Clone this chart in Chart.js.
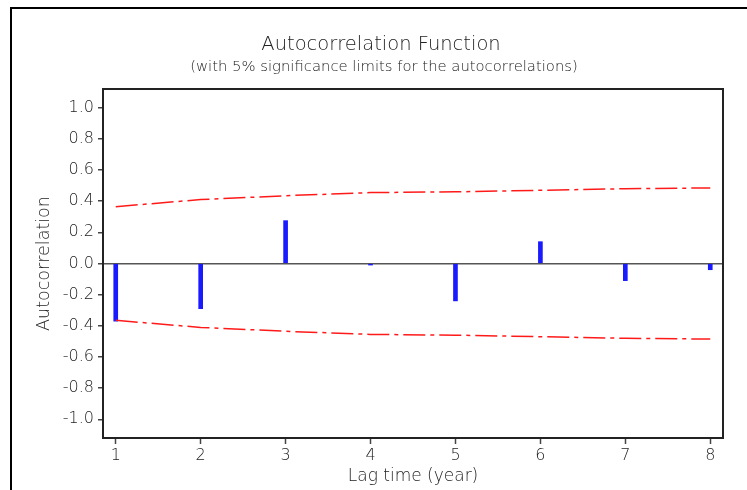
<!DOCTYPE html>
<html>
<head>
<meta charset="utf-8">
<script src="https://cdn.jsdelivr.net/npm/chart.js@4"></script>
<style>
    html, body { margin: 0; padding: 0; background: #fff; }
    #wrap { position: relative; width: 747px; height: 490px; }
</style>
</head>
<body>
<div id="wrap"><canvas id="acfChart" width="747" height="490"></canvas></div>
<script>
const lags = [1, 2, 3, 4, 5, 6, 7, 8];
const acf = [-0.37, -0.29, 0.275, -0.01, -0.24, 0.14, -0.11, -0.04];
const upperLimit = [0.365, 0.41, 0.435, 0.455, 0.46, 0.47, 0.48, 0.485];
const lowerLimit = upperLimit.map(v => -v);
const yTicks = [-1.0, -0.8, -0.6, -0.4, -0.2, 0.0, 0.2, 0.4, 0.6, 0.8, 1.0];

const FONT = "'DejaVu Sans', sans-serif";
const TEXT = '#222';

// outer frame, plot box and headings
const decorations = {
    id: 'decorations',
    beforeDraw(chart) {
        const c = chart.ctx;
        c.save();
        c.fillStyle = '#fff';
        c.fillRect(0, 0, chart.width, chart.height);
        c.strokeStyle = '#000';
        c.lineWidth = 2;
        c.beginPath();
        c.moveTo(11, chart.height);
        c.lineTo(11, 8);
        c.lineTo(chart.width, 8);
        c.stroke();
        c.restore();
    },
    afterDraw(chart) {
        const c = chart.ctx;
        const a = chart.chartArea;
        c.save();
        c.strokeStyle = '#222';
        c.lineWidth = 2;
        c.strokeRect(a.left, a.top, a.right - a.left, a.bottom - a.top);
        c.fillStyle = TEXT;
        c.textAlign = 'center';
        c.textBaseline = 'middle';
        c.font = '200 19.5px ' + FONT;
        c.fillText('Autocorrelation Function', 381, 45);
        c.font = '200 14.8px ' + FONT;
        c.fillText('(with 5% significance limits for the autocorrelations)', 384, 67);
        c.restore();
    }
};

const limitStyle = {
    type: 'line',
    borderColor: '#ff1a1a',
    borderWidth: 1.5,
    borderDash: [22, 5, 4, 5],
    pointRadius: 0,
    tension: 0,
    fill: false
};

new Chart(document.getElementById('acfChart'), {
    type: 'bar',
    data: {
        datasets: [
            {
                label: 'ACF',
                data: lags.map((l, i) => ({ x: l, y: acf[i] })),
                backgroundColor: '#1a1aff',
                barThickness: 4,
                order: 2
            },
            { ...limitStyle, label: 'Upper', data: lags.map((l, i) => ({ x: l, y: upperLimit[i] })), order: 1 },
            { ...limitStyle, label: 'Lower', data: lags.map((l, i) => ({ x: l, y: lowerLimit[i] })), order: 1 }
        ]
    },
    options: {
        responsive: false,
        animation: false,
        layout: { padding: { top: 89, left: 0, right: 24, bottom: 0 } },
        plugins: {
            legend: { display: false },
            tooltip: { enabled: false }
        },
        scales: {
            x: {
                type: 'linear',
                min: 0.85,
                max: 8.15,
                offset: false,
                afterBuildTicks: s => { s.ticks = lags.map(v => ({ value: v })); },
                afterFit: s => { s.height = 52; },
                grid: { offset: false, drawOnChartArea: false, drawTicks: true, tickLength: 6, tickColor: '#444', tickWidth: 1.5 },
                border: { display: false },
                ticks: { color: TEXT, font: { family: FONT, size: 16, weight: 200 }, padding: 2, maxRotation: 0 },
                title: { display: true, text: 'Lag time (year)', color: TEXT, font: { family: FONT, size: 17, weight: 200 }, padding: { top: 2, bottom: 3 } }
            },
            y: {
                min: -1.12,
                max: 1.12,
                afterBuildTicks: s => { s.ticks = yTicks.map(v => ({ value: v })); },
                afterFit: s => { s.width = 103; },
                grid: {
                    drawOnChartArea: true,
                    drawTicks: true,
                    tickLength: 5,
                    tickColor: '#444',
                    tickWidth: 1.5,
                    color: ctx => (ctx.tick && Math.abs(ctx.tick.value) < 1e-9) ? '#555' : 'rgba(0,0,0,0)',
                    lineWidth: 1.5
                },
                border: { display: false },
                ticks: {
                    color: TEXT,
                    font: { family: FONT, size: 16, weight: 200 },
                    padding: 4,
                    callback: v => v.toFixed(1)
                },
                title: { display: true, text: 'Autocorrelation', color: TEXT, font: { family: FONT, size: 17.5, weight: 200 }, padding: { top: 34, bottom: 4 } }
            }
        }
    },
    plugins: [decorations]
});
</script>
</body>
</html>
